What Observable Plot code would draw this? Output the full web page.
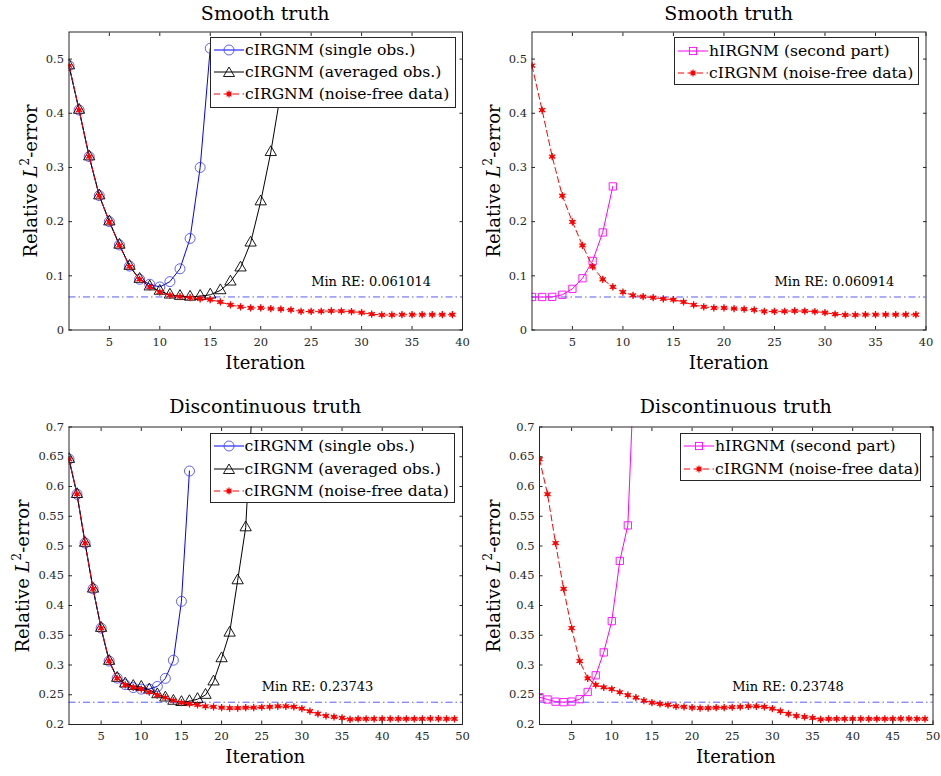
<!DOCTYPE html>
<html><head><meta charset="utf-8">
<script src="https://cdn.jsdelivr.net/npm/d3@7"></script>
<script src="https://cdn.jsdelivr.net/npm/@observablehq/plot@0.6"></script>
<style>
body{margin:0;background:#fff;}
#wrap{position:relative;width:941px;height:776px;background:#fff;font-family:"DejaVu Serif","Liberation Serif",serif;color:#000;overflow:hidden;}
.panel{position:absolute;}
.lab{position:absolute;white-space:nowrap;transform:translate(-50%,-50%);line-height:1;}
.title{font-size:19px;}
.xlabel{font-size:18px;}
.ylabel{font-size:18px;transform:translate(-50%,-50%) rotate(-90deg);}
.ylabel sup{font-size:12px;vertical-align:0;position:relative;top:-8px;}
.legend{position:absolute;background:#fff;border:1px solid #262626;box-sizing:border-box;}
.legend .row{position:absolute;left:0;height:20px;display:flex;align-items:center;font-size:15.6px;white-space:nowrap;transform:translateY(-50%);}
.legend svg{display:block;}
</style></head>
<body><div id="wrap"></div>
<script>
// ---------------- data ----------------
const smoothNoiseFree = [0.488,0.406,0.320,0.248,0.1995,0.156,0.117,0.0935,0.0795,0.070,0.064,0.0616,0.0597,0.0575,0.056,0.0517,0.0462,0.0427,0.0408,0.0408,0.0396,0.0384,0.0372,0.0342,0.0342,0.0346,0.0351,0.0349,0.0341,0.032,0.0292,0.0277,0.0277,0.0282,0.0282,0.0282,0.0282,0.0282,0.0282];
const smoothSingle = [0.488,0.406,0.320,0.248,0.200,0.157,0.118,0.0936,0.0844,0.0794,0.0893,0.113,0.169,0.300,0.520];
const smoothAveraged = [0.488,0.406,0.320,0.248,0.200,0.157,0.118,0.094,0.080,0.072,0.065,0.0625,0.0610,0.0625,0.065,0.073,0.089,0.115,0.161,0.237,0.328,0.44];
const smoothHybrid = [0.0609,0.0609,0.0611,0.065,0.076,0.0955,0.1275,0.180,0.265];
const discNoiseFree = [0.646,0.587,0.505,0.428,0.362,0.3066,0.2775,0.2665,0.2625,0.2595,0.2542,0.2493,0.2453,0.2403,0.2367,0.2345,0.233,0.2305,0.2297,0.2283,0.2276,0.2276,0.2282,0.2285,0.229,0.2297,0.2305,0.2305,0.2297,0.2268,0.2223,0.218,0.2143,0.2128,0.211,0.2086,0.2093,0.2095,0.2095,0.2095,0.2095,0.2095,0.2095,0.2095,0.2095,0.2097,0.2097,0.2095,0.2095];
const discSingle = [0.646,0.587,0.505,0.428,0.362,0.3066,0.278,0.267,0.262,0.2595,0.2595,0.264,0.2775,0.308,0.407,0.626];
const discAveraged = [0.646,0.587,0.505,0.428,0.362,0.3066,0.278,0.2685,0.2645,0.263,0.2584,0.2505,0.245,0.2395,0.2374,0.239,0.2425,0.2495,0.272,0.311,0.354,0.442,0.531,0.78];
const discHybrid = [0.2458,0.242,0.2384,0.2375,0.2385,0.2425,0.2547,0.2827,0.3212,0.3737,0.4749,0.5346,0.87];

const minRE = [0.061014, 0.060914, 0.23743, 0.23748];
const minLabels = ["Min RE: 0.061014","Min RE: 0.060914","Min RE: 0.23743","Min RE: 0.23748"];
const minTextX = [25, 25, 25, 25];
const minTextY = [0.088, 0.088, 0.2628, 0.2628];

const xTicksSmooth = [5,10,15,20,25,30,35,40];
const xTicksDisc = [5,10,15,20,25,30,35,40,45,50];
const yTicksSmooth = [0,0.1,0.2,0.3,0.4,0.5];
const yTicksDisc = [0.2,0.25,0.3,0.35,0.4,0.45,0.5,0.55,0.6,0.65,0.7];

const titles = ["Smooth truth","Smooth truth","Discontinuous truth","Discontinuous truth"];
const legSingle = "cIRGNM (single obs.)";
const legAveraged = "cIRGNM (averaged obs.)";
const legNoiseFree = "cIRGNM (noise-free data)";
const legHybrid = "hIRGNM (second part)";

// ---------------- styles ----------------
const FONT = '"DejaVu Serif","Liberation Serif",serif';
const BLUE = "#0000ff", BLACK = "#000000", RED = "#ff0000", MAG = "#ff00ff", REFLINE = "#5a5aff";
const styles = {
  single:   {stroke: BLUE, dash: null, symbol: "circle", r: 5, mstroke: "#3a3aff", mw: 0.8},
  averaged: {stroke: BLACK, dash: null, symbol: "triangle", r: 4.2, mstroke: BLACK, mw: 0.9},
  hybrid:   {stroke: MAG, dash: null, symbol: "square", r: 4.1, mstroke: MAG, mw: 0.9},
  noisefree:{stroke: RED, dash: "6,3.5", symbol: "star", r: 3, mstroke: RED, mw: 1}
};
const toRows = arr => arr.map((v, i) => ({it: i + 1, v}));

function seriesMarks(arr, st) {
  const rows = toRows(arr);
  const marks = [Plot.line(rows, {x: "it", y: "v", stroke: st.stroke, strokeWidth: 1, strokeDasharray: st.dash, clip: true})];
  if (st.symbol === "star") {
    marks.push(Plot.dot(rows, {x: "it", y: "v", r: 2.1, fill: RED, stroke: "none", clip: true}));
    marks.push(Plot.dot(rows, {x: "it", y: "v", symbol: "asterisk", r: 3.4, stroke: RED, strokeWidth: 1.3, clip: true}));
  } else {
    marks.push(Plot.dot(rows, {x: "it", y: "v", symbol: st.symbol, r: st.r, stroke: st.mstroke, strokeWidth: st.mw, fill: "none", clip: true}));
  }
  return marks;
}

const fmt = d => String(+d.toFixed(2));
const AXC = "#262626";

function makePanel(cfg) {
  const {left, top, width, height, mL, mT, mR, mB, xDomain, xTicks, yDomain, yTicks, series, idx} = cfg;
  const marks = [
    Plot.ruleY([minRE[idx]], {stroke: REFLINE, strokeWidth: 1, strokeDasharray: "7,3,1.5,3"}),
    ...series.flatMap(([arr, st]) => seriesMarks(arr, styles[st])),
    Plot.text([minLabels[idx]], {x: () => minTextX[idx], y: () => minTextY[idx], text: d => d, textAnchor: "start", fontSize: 13, fill: "#000", fontFamily: FONT}),
    Plot.axisX({anchor: "bottom", ticks: xTicks, tickSize: -3.5, tickPadding: 11, tickFormat: d => String(d), stroke: AXC, fill: AXC, fontSize: 11.5}),
    Plot.axisX({anchor: "top", ticks: xTicks, tickSize: -3.5, tickFormat: () => "", stroke: AXC}),
    Plot.axisY({anchor: "left", ticks: yTicks, tickSize: -3.5, tickPadding: 8.5, tickFormat: fmt, stroke: AXC, fill: AXC, fontSize: 11.5}),
    Plot.axisY({anchor: "right", ticks: yTicks, tickSize: -3.5, tickFormat: () => "", stroke: AXC}),
    Plot.frame({stroke: AXC, strokeWidth: 1})
  ];
  const svg = Plot.plot({
    width, height, marginLeft: mL, marginTop: mT, marginRight: mR, marginBottom: mB,
    x: {domain: xDomain, label: null},
    y: {domain: yDomain, label: null},
    style: {fontFamily: FONT, fontSize: "11.5px", background: "transparent", overflow: "visible"},
    marks
  });
  svg.classList.add("panel");
  svg.style.left = left + "px";
  svg.style.top = top + "px";
  svg.style.position = "absolute";
  return svg;
}

const wrap = document.getElementById("wrap");
const panels = [
  {idx: 0, left: 0, top: 0, width: 470, height: 388, mL: 68.5, mT: 31.5, mR: 8, mB: 58.5,
   xDomain: [1, 40], xTicks: xTicksSmooth, yDomain: [0, 0.55], yTicks: yTicksSmooth,
   series: [[smoothSingle, "single"], [smoothAveraged, "averaged"], [smoothNoiseFree, "noisefree"]]},
  {idx: 1, left: 470, top: 0, width: 471, height: 388, mL: 61.5, mT: 31.5, mR: 15.5, mB: 58.5,
   xDomain: [1, 40], xTicks: xTicksSmooth, yDomain: [0, 0.55], yTicks: yTicksSmooth,
   series: [[smoothHybrid, "hybrid"], [smoothNoiseFree, "noisefree"]]},
  {idx: 2, left: 0, top: 388, width: 470, height: 388, mL: 68.5, mT: 38.5, mR: 8, mB: 52,
   xDomain: [1, 50], xTicks: xTicksDisc, yDomain: [0.2, 0.7], yTicks: yTicksDisc,
   series: [[discSingle, "single"], [discAveraged, "averaged"], [discNoiseFree, "noisefree"]]},
  {idx: 3, left: 470, top: 388, width: 471, height: 388, mL: 69, mT: 38.5, mR: 8.5, mB: 52,
   xDomain: [1, 50], xTicks: xTicksDisc, yDomain: [0.2, 0.7], yTicks: yTicksDisc,
   series: [[discHybrid, "hybrid"], [discNoiseFree, "noisefree"]]}
];
panels.forEach(p => wrap.appendChild(makePanel(p)));

// ---------------- labels ----------------
function addLabel(cls, html, x, y) {
  const d = document.createElement("div");
  d.className = "lab " + cls;
  d.innerHTML = html;
  d.style.left = x + "px";
  d.style.top = y + "px";
  wrap.appendChild(d);
}
const frameCx = [265.2, 728.7, 265.2, 735.8];
const titleY = [13, 13, 406, 406];
const xlabY = [363, 363, 757, 757];
const ylabX = [31, 494, 23, 494];
const ylabY = [180.5, 180.5, 575.5, 575.5];
const yLabelHtml = 'Relative <i>L</i><sup>2</sup>-error';
titles.forEach((t, i) => {
  addLabel("title", t, frameCx[i], titleY[i]);
  addLabel("xlabel", "Iteration", frameCx[i], xlabY[i]);
  addLabel("ylabel", yLabelHtml, ylabX[i], ylabY[i]);
});

// ---------------- legends ----------------
function sampleSvg(key) {
  const st = styles[key];
  const w = 30, h = 16, cx = 15, cy = 8;
  let marker = "";
  if (st.symbol === "circle") marker = `<circle cx="${cx}" cy="${cy}" r="5" fill="none" stroke="${st.mstroke}" stroke-width="0.8"/>`;
  if (st.symbol === "triangle") marker = `<path d="M${cx},${cy-5}L${cx+5.5},${cy+4.5}L${cx-5.5},${cy+4.5}Z" fill="none" stroke="#000" stroke-width="0.9"/>`;
  if (st.symbol === "square") marker = `<rect x="${cx-3.6}" y="${cy-3.6}" width="7.2" height="7.2" fill="none" stroke="${MAG}" stroke-width="0.9"/>`;
  if (st.symbol === "star") marker = `<circle cx="${cx}" cy="${cy}" r="2.1" fill="${RED}"/><path d="M${cx-3.4},${cy}H${cx+3.4}M${cx},${cy-3.4}V${cy+3.4}M${cx-2.4},${cy-2.4}L${cx+2.4},${cy+2.4}M${cx-2.4},${cy+2.4}L${cx+2.4},${cy-2.4}" stroke="${RED}" stroke-width="1.2"/>`;
  const dash = st.dash ? ` stroke-dasharray="6,3.5"` : "";
  return `<svg width="${w}" height="${h}"><line x1="0" y1="${cy}" x2="${w}" y2="${cy}" stroke="${st.stroke}" stroke-width="1"${dash}/>${marker}</svg>`;
}
function addLegend(left, top, width, height, entries, rowTops) {
  const box = document.createElement("div");
  box.className = "legend";
  Object.assign(box.style, {left: left + "px", top: top + "px", width: width + "px", height: height + "px"});
  entries.forEach(([key, text], i) => {
    const row = document.createElement("div");
    row.className = "row";
    row.style.top = rowTops[i] + "px";
    row.style.left = "3px";
    row.innerHTML = sampleSvg(key) + `<span style="margin-left:1px">${text}</span>`;
    box.appendChild(row);
  });
  wrap.appendChild(box);
}
addLegend(210, 37, 245.5, 70.5, [["single", legSingle], ["averaged", legAveraged], ["noisefree", legNoiseFree]], [11.5, 34, 56]);
addLegend(674, 37, 244.5, 47.5, [["hybrid", legHybrid], ["noisefree", legNoiseFree]], [12.5, 35]);
addLegend(209.5, 432.5, 245.5, 70, [["single", legSingle], ["averaged", legAveraged], ["noisefree", legNoiseFree]], [12.5, 35, 57]);
addLegend(680, 432.5, 241, 48.5, [["hybrid", legHybrid], ["noisefree", legNoiseFree]], [12.5, 35]);
</script></body></html>
